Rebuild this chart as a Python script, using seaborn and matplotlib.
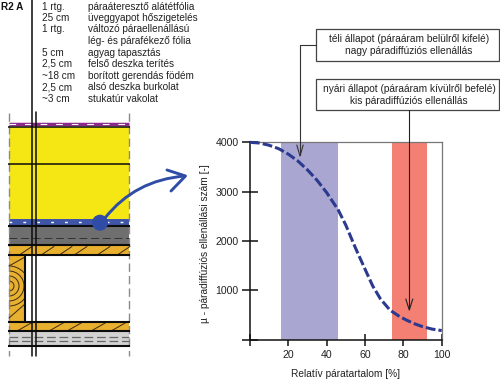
import numpy as np
import pandas as pd
import seaborn as sns
import matplotlib.pyplot as plt
from matplotlib.patches import Rectangle, Circle, PathPatch, Arc
from matplotlib.path import Path

# chart values
humidity = [0, 5, 10, 15, 20, 25, 30, 35, 40, 46, 50, 55, 60, 64, 68, 73, 78, 82, 86, 90, 95, 100]
resistance = [4000, 3985, 3940, 3870, 3760, 3620, 3440, 3230, 2980, 2630, 2320, 1860, 1430, 1090, 830, 600, 470, 390, 320, 265, 215, 185]
winter_band = [16.3, 45.7]
summer_band = [74.2, 92.3]
x_ticks = [0, 20, 40, 60, 80, 100]
x_labels = ['', '20', '40', '60', '80', '100']
y_ticks = [0, 1000, 2000, 3000, 4000]
y_labels = ['', '1000', '2000', '3000', '4000']

# layer list
thickness = ['1 rtg.', '25 cm', '1 rtg.', '', '5 cm', '2,5 cm', '~18 cm', '2,5 cm', '~3 cm']
layer_names = ['páraáteresztő alátétfólia', 'üveggyapot hőszigetelés', 'változó páraellenállású',
               'lég- és párafékező fólia', 'agyag tapasztás', 'felső deszka terítés',
               'borított gerendás födém', 'alsó deszka burkolat', 'stukatúr vakolat']
layer_rows = [6.5, 17.8, 29.2, 41, 52.6, 64, 75.8, 87.3, 99]

# section fills: top, bottom, colour
fills = [(127, 219, '#f5e714'), (219, 225, '#3f55a8'), (226, 245, '#6f6f6f'),
         (246, 255, '#e8b02e'), (321, 331, '#e8b02e'), (331, 346, '#d2d2d2')]
black_lines = [127, 163.7, 226, 245.3, 255, 321.5, 331, 346]
hatch_upper = [20, 42, 60, 75, 98, 118]
hatch_lower = [18, 50, 68, 92, 112]

sns.set_style('white')
plt.rcParams['font.family'] = ['Liberation Sans', 'DejaVu Sans']

W, H = 500, 379
fig = plt.figure(figsize=(5, 3.79), dpi=100)

# chart axes, placed to the pixel box of the picture
ax = fig.add_axes([250 / W, 1 - 339.7 / H, (441.7 - 250) / W, (339.7 - 142.3) / H])
ax.axvspan(*winter_band, color='#a9a7d1', lw=0)
ax.axvspan(*summer_band, color='#f47f73', lw=0)
df = pd.DataFrame({'rh': humidity, 'mu': resistance})
sns.lineplot(data=df, x='rh', y='mu', ax=ax, color='#2b3a8f', lw=2.2, clip_on=False, zorder=5,
             linestyle=(0, (3.2, 1.0)))
ax.set_xlim(0, 100)
ax.set_ylim(0, 4000)
ax.set_xticks(x_ticks)
ax.set_xticklabels(x_labels)
ax.set_yticks(y_ticks)
ax.set_yticklabels(y_labels)
ax.tick_params(axis='x', bottom=True, direction='inout', length=8.5, width=1.1, color='#111111', labelsize=7.6,
               labelcolor='#222222', pad=3.2)
ax.tick_params(axis='y', left=True, direction='inout', length=11.5, width=1.1, color='#111111', labelsize=7.6,
               labelcolor='#222222', pad=2.5)
for s in ['top', 'right']:
    ax.spines[s].set_color('#777777')
    ax.spines[s].set_linewidth(0.9)
for s in ['left', 'bottom']:
    ax.spines[s].set_color('#111111')
    ax.spines[s].set_linewidth(1.1)
ax.set_xlabel('Relatív páratartalom [%]', fontsize=7.3, color='#222222')
ax.set_ylabel('µ - páradiffúziós ellenállási szám [-]', fontsize=7.3, color='#222222')
ax.xaxis.set_label_coords(0.496, -0.148)
ax.yaxis.set_label_coords(-0.208, 0.485)

# overlay in pixels for the wall section and the notes
ov = fig.add_axes([0, 0, 1, 1], facecolor='none')
ov.set_xlim(0, W)
ov.set_ylim(H, 0)
ov.axis('off')

ov.text(1, 6.5, 'R2 A', fontsize=7.2, fontweight='bold', va='center', color='#111111')
for t, n, y in zip(thickness, layer_names, layer_rows):
    ov.text(42, y, t, fontsize=7.2, va='center', color='#222222')
    ov.text(88, y, n, fontsize=7.2, va='center', color='#222222')

for top, bottom, c in fills:
    ov.add_patch(Rectangle((9, top), 120, bottom - top, fc=c, ec='none'))
joist = Rectangle((9, 255), 16, 66, fc='#e8b02e', ec='none')
ov.add_patch(joist)

# timber grain
for x0 in hatch_upper:
    ov.plot([x0, x0 + 12], [254.5, 246.5], color='#3a2a10', lw=0.7)
for x0 in hatch_lower:
    ov.plot([x0, x0 + 14], [330.5, 322.5], color='#3a2a10', lw=0.7)
for r in [5, 10, 15, 20]:
    arc = Arc((9, 286), 2 * r, 2 * r, theta1=-90, theta2=90, color='#3a2a10', lw=0.7)
    ov.add_patch(arc)
    arc.set_clip_path(joist)
ov.plot([9, 25], [266, 257], color='#3a2a10', lw=0.7)
ov.plot([9, 25], [318, 304], color='#3a2a10', lw=0.7)

# foils and dashed layers
ov.plot([9, 129], [124.2, 124.2], color='#8b2a8c', lw=2.5, solid_capstyle='butt')
ov.plot([9, 129], [124.2, 124.2], color='white', lw=0.8, linestyle=(0, (6, 8)))
ov.plot([9, 129], [222, 222], color='white', lw=1.0, linestyle=(0, (2, 8)))
ov.plot([9, 129], [238, 238], color='#333333', lw=0.7, linestyle=(0, (8, 4)))
ov.plot([9, 129], [337.2, 337.2], color='#666666', lw=0.9, linestyle=(0, (7, 3)))
ov.plot([9, 129], [340.8, 340.8], color='#666666', lw=0.9, linestyle=(0, (7, 3)))
for y in black_lines:
    ov.plot([8, 130], [y, y], color='#0c0c0c', lw=1.1 if y in (127, 163.7) else 1.5, solid_capstyle='butt')
ov.plot([25, 25], [255, 321], color='#0c0c0c', lw=1.5)
for x in [9, 129]:
    ov.plot([x, x], [113, 356], color='#8a8a8a', lw=1.0, linestyle=(0, (6, 3)), zorder=1.5)
ov.plot([31.7, 31.7], [0, 356], color='#0c0c0c', lw=1.1)
ov.plot([35.8, 35.8], [112, 356], color='#0c0c0c', lw=1.1)

# blue marker and curved arrow
blue = '#2f4da6'
ov.add_patch(Circle((100, 222.7), 8, fc=blue, ec='none', zorder=6))
ov.add_patch(PathPatch(Path([(105, 218), (135, 180), (185, 176)], [Path.MOVETO, Path.CURVE3, Path.CURVE3]),
                       fc='none', ec=blue, lw=2.1, zorder=6))
ov.plot([167, 185.5, 171], [170, 176, 191], color=blue, lw=2.1, zorder=6)

# note boxes with leaders
for top, bottom in [(29, 60.7), (79, 110.3)]:
    ov.add_patch(Rectangle((315.7, top), 183.5, bottom - top, fc='white', ec='#444444', lw=0.9))
ov.text(409, 39, 'téli állapot (páraáram belülről kifelé)', fontsize=7.3, ha='center', va='center', color='#222222')
ov.text(409, 51, 'nagy páradiffúziós ellenállás', fontsize=7.3, ha='center', va='center', color='#222222')
ov.text(409, 89, 'nyári állapot (páraáram kívülről befelé)', fontsize=7.3, ha='center', va='center', color='#222222')
ov.text(409, 100.8, 'kis páradiffúziós ellenállás', fontsize=7.3, ha='center', va='center', color='#222222')
ov.plot([315.7, 300, 300], [44.7, 44.7, 155], color='#333333', lw=0.8)
ov.plot([296.8, 300, 303.2], [145, 156, 145], color='#333333', lw=0.8)
ov.plot([409.3, 409.3], [110.3, 309], color='#222222', lw=0.8)
ov.plot([405.8, 409.3, 412.8], [299, 310, 299], color='#222222', lw=0.8)

fig.savefig('out.png', dpi=100)
